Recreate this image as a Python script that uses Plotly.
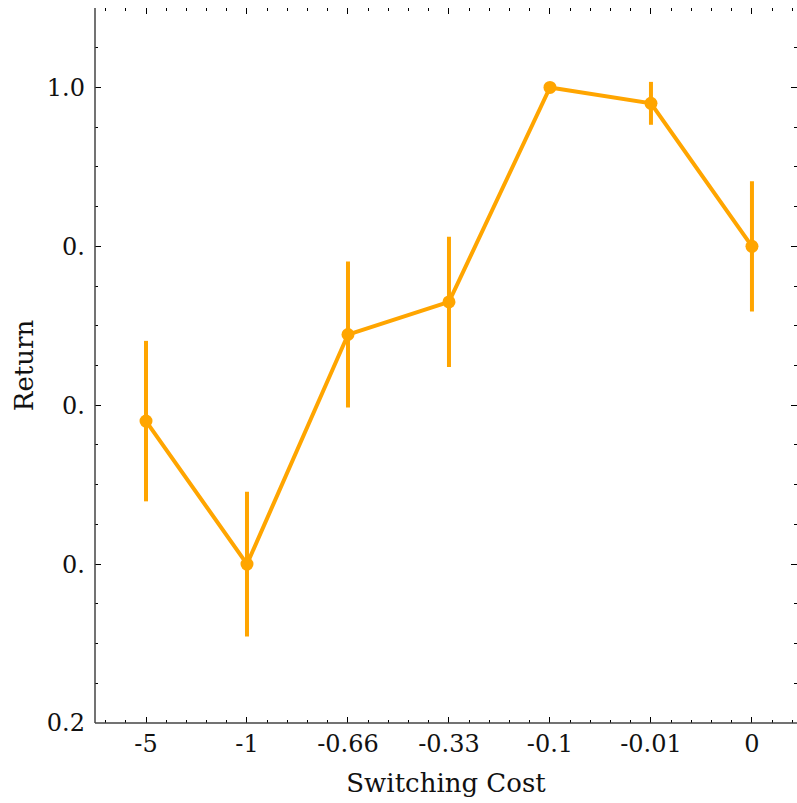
import plotly.graph_objects as go

# ---- data ----
categories = ["-5", "-1", "-0.66", "-0.33", "-0.1", "-0.01", "0"]
returns = [0.580, 0.400, 0.689, 0.730, 1.000, 0.980, 0.800]
errors = [0.101, 0.091, 0.092, 0.082, 0.0, 0.027, 0.082]
y_tick_values = [0.2, 0.4, 0.6, 0.8, 1.0]
y_tick_labels = ["0.2", "0.", "0.", "0.", "1.0"]

positions = list(range(len(categories)))

ORANGE = "#FFA500"
FONT = "DejaVu Serif"
AXIS_LINE = "#444444"

fig = go.Figure()
fig.add_trace(go.Scatter(
    x=positions, y=returns,
    mode="lines+markers",
    line=dict(color=ORANGE, width=4),
    marker=dict(color=ORANGE, size=13),
    error_y=dict(type="data", array=errors, visible=True,
                 color=ORANGE, thickness=4, width=0),
    showlegend=False,
))

fig.update_layout(
    width=797, height=803,
    margin=dict(l=95, r=0, t=8, b=80, autoexpand=False),
    plot_bgcolor="white", paper_bgcolor="white",
    font=dict(family=FONT, size=22, color="#111111"),
    xaxis=dict(
        range=[-0.505, 6.446],
        tickmode="array", tickvals=positions, ticktext=categories,
        tickfont=dict(size=24),
        ticks="inside", ticklen=6, tickwidth=1.2, tickcolor="black",
        showgrid=False, zeroline=False, automargin=False,
        showline=False, mirror="ticks",
        ticklabelstandoff=4,
        minor=dict(tickmode="linear", tick0=0, dtick=0.2, ticks="inside",
                   ticklen=3, tickwidth=1, tickcolor="black", showgrid=False),
        title=dict(text="Switching Cost", standoff=16),
    ),
    yaxis=dict(
        range=[0.2, 1.1],
        tickmode="array", tickvals=y_tick_values, ticktext=y_tick_labels,
        tickfont=dict(size=24),
        ticks="inside", ticklen=6, tickwidth=1.2, tickcolor="black",
        showgrid=False, zeroline=False, automargin=False,
        showline=False, mirror="ticks",
        ticklabelstandoff=9,
        minor=dict(tickmode="linear", tick0=0.2, dtick=0.05, ticks="inside",
                   ticklen=3, tickwidth=1, tickcolor="black", showgrid=False),
        title=dict(text="Return", standoff=5),
    ),
    shapes=[
        dict(type="line", xref="paper", yref="paper", x0=0, x1=0, y0=0, y1=1,
             line=dict(color=AXIS_LINE, width=1.5), layer="above"),
        dict(type="line", xref="paper", yref="paper", x0=0, x1=1, y0=0, y1=0,
             line=dict(color=AXIS_LINE, width=1.5), layer="above"),
    ],
)

fig.write_html(
    "out.html",
    config={"displayModeBar": False},
    post_script="document.body.style.margin='0';",
)
